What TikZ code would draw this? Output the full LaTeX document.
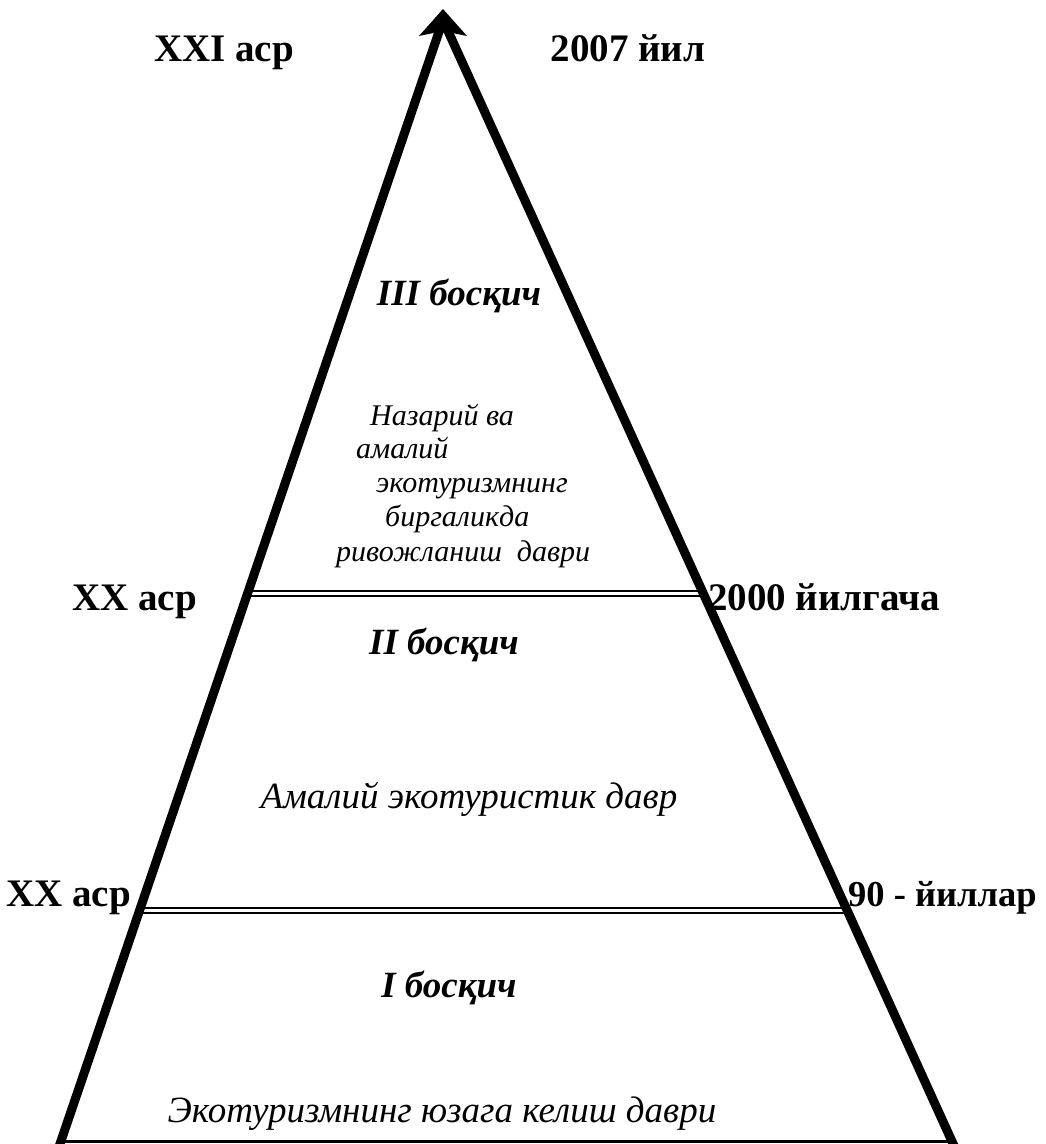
\documentclass[tikz,border=0pt]{standalone}
\usepackage{fontspec}
\setmainfont{Liberation Serif}
\usetikzlibrary{calc}
\begin{document}
\begin{tikzpicture}[x=1pt,y=-1pt,
  side/.style={line width=9pt, line join=bevel},
  baseline/.style={line width=2.5pt},
  sep/.style={double, line width=2pt, double distance=3pt},
  lab/.style={font=\fontsize{39}{40}\selectfont\bfseries, inner sep=0pt},
  labs/.style={font=\fontsize{36.5}{40}\selectfont\bfseries, inner sep=0pt},
  stage/.style={font=\fontsize{37}{40}\selectfont\bfseries\itshape, inner sep=0pt},
  desc/.style={font=\fontsize{37}{40}\selectfont\itshape, inner sep=0pt},
  blk/.style={font=\fontsize{30}{34}\selectfont\itshape, inner sep=0pt, anchor=base west},
]
\useasboundingbox (0,0) rectangle (1045,1144);
\coordinate (apex) at (443,20);
\coordinate (bl) at (58.6,1148);
\coordinate (br) at (955,1148);
% separators
\draw[sep] ($(apex)!0.5084!(bl)$) -- ($(apex)!0.5084!(br)$);
\draw[sep] ($(apex)!0.7890!(bl)$) -- ($(apex)!0.7890!(br)$);
\draw[baseline] ($(apex)!0.9942!(bl)$) -- ($(apex)!0.9942!(br)$);
% sides
\draw[side] (bl) -- (apex) -- (br);
% arrow head
\fill (443,9) -- (467,36) -- (443,31) -- (419,36) -- cycle;
% labels
\node[lab, anchor=base] (c21) at (224,61) {XXI аср};
\node[lab, anchor=base] (y2007) at (628,61) {2007 йил};
\node[stage, anchor=base] (s3) at (459,305) {III босқич};
\node[blk] (b1) at (370,425) {Назарий ва};
\node[blk] (b2) at (356,458) {амалий};
\node[blk] (b3) at (376,492) {экотуризмнинг};
\node[blk] (b4) at (385,526) {биргаликда};
\node[blk] (b5) at (336,561) {ривожланиш\ \ даври};
\node[lab, anchor=base east] (c20a) at (197,610) {XX аср};
\node[lab, anchor=base west] (y2000) at (708,610) {2000 йилгача};
\node[stage, anchor=base] (s2) at (444,654) {II босқич};
\node[desc, anchor=base] (d2) at (469,808) {Амалий экотуристик давр};
\node[lab, anchor=base east] (c20b) at (131,906) {XX аср};
\node[labs, anchor=base west] (y90) at (848,906) {90 - йиллар};
\node[stage, anchor=base] (s1) at (449,997) {I босқич};
\node[desc, anchor=base] (d1) at (442,1122) {Экотуризмнинг юзага келиш даври};
\end{tikzpicture}
\end{document}
